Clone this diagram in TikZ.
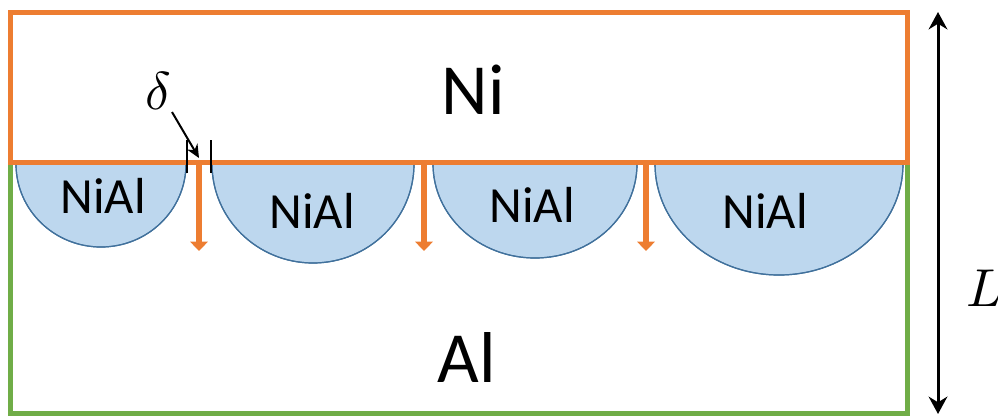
\documentclass[tikz,border=0pt]{standalone}
\usepackage{graphicx}
\usepackage{fontspec}
\setmainfont{Carlito}
\usetikzlibrary{arrows.meta}
\definecolor{niorange}{HTML}{ED7D31}
\definecolor{algreen}{HTML}{70AD47}
\definecolor{nialfill}{HTML}{BDD7EE}
\definecolor{nialedge}{HTML}{41719C}
\newcommand{\bigsym}[1]{\scalebox{4}{$#1$}}
\begin{document}
\begin{tikzpicture}[x=0.75pt,y=-0.75pt,
  layerbox/.style={line width=3.75pt},
  grain/.style={fill=nialfill,draw=nialedge,line width=0.9pt},
  grainlabel/.style={inner sep=0pt,font=\fontsize{38}{44}\selectfont},
  metallabel/.style={inner sep=0pt,font=\fontsize{54}{62}\selectfont},
  mathlabel/.style={inner sep=0pt},
  diffarrow/.style={draw=niorange,line width=4.2pt,-{Triangle[width=13pt,length=7pt]}},
  tick/.style={draw=black,line width=1.5pt},
  pointer/.style={draw=black,line width=1.5pt,-{Stealth[width=9pt,length=10pt]}},
  span/.style={draw=black,line width=2.25pt,{Stealth[width=14pt,length=13pt]}-{Stealth[width=14pt,length=13pt]}}]
\useasboundingbox (0,0) rectangle (998,419);

% Al substrate
\draw[layerbox,draw=algreen] (10,162) rectangle (907,413);

% NiAl grains growing into Al
\fill[grain] (16,164) arc[start angle=180,end angle=0,x radius=85,y radius=83] -- cycle;
\fill[grain] (212,164) arc[start angle=180,end angle=0,x radius=101,y radius=99] -- cycle;
\fill[grain] (433,164) arc[start angle=180,end angle=0,x radius=102,y radius=94] -- cycle;
\fill[grain] (655,164) arc[start angle=180,end angle=0,x radius=124,y radius=111] -- cycle;
\draw[grain,fill=none] (16,164) arc[start angle=180,end angle=0,x radius=85,y radius=83];
\draw[grain,fill=none] (212,164) arc[start angle=180,end angle=0,x radius=101,y radius=99];
\draw[grain,fill=none] (433,164) arc[start angle=180,end angle=0,x radius=102,y radius=94];
\draw[grain,fill=none] (655,164) arc[start angle=180,end angle=0,x radius=124,y radius=111];

% Ni layer
\draw[layerbox,draw=niorange] (10,12) rectangle (907,162);

% labels
\node[metallabel] (ni) at (473,90) {Ni};
\node[metallabel] (al) at (467,357) {Al};
\node[grainlabel] (g1) at (103,196) {NiAl};
\node[grainlabel] (g2) at (312,211) {NiAl};
\node[grainlabel] (g3) at (532,205) {NiAl};
\node[grainlabel] (g4) at (765,211) {NiAl};

% diffusion along the grain boundaries
\coordinate (b1s) at (199,162); \coordinate (b1e) at (199,251);
\coordinate (b2s) at (424,162); \coordinate (b2e) at (424,251);
\coordinate (b3s) at (646,162); \coordinate (b3e) at (646,251);
\draw[diffarrow] (b1s) -- (b1e);
\draw[diffarrow] (b2s) -- (b2e);
\draw[diffarrow] (b3s) -- (b3e);

% channel width delta
\coordinate (t1a) at (187,140); \coordinate (t1b) at (187,173);
\coordinate (t2a) at (211,140); \coordinate (t2b) at (211,173);
\draw[tick] (t1a) -- (t1b);
\draw[tick] (t2a) -- (t2b);
\node[mathlabel] (delta) at (158,91) {\bigsym{\delta}};
\coordinate (dtip) at (199,158);
\draw[pointer] (172,112) -- (dtip);

% total thickness L
\coordinate (ltop) at (938,12); \coordinate (lbot) at (938,414);
\draw[span] (ltop) -- (lbot);
\node[mathlabel,anchor=west] (len) at (966,288) {\bigsym{L}};
\end{tikzpicture}
\end{document}
